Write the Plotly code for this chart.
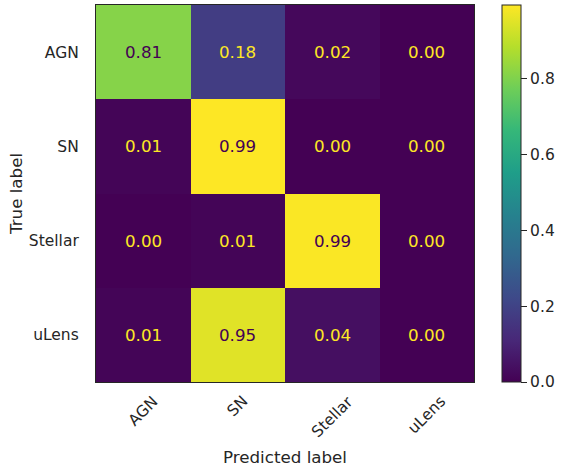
import plotly.graph_objects as go

classes = ["AGN", "SN", "Stellar", "uLens"]
# rows = true label, columns = predicted label
row_agn = [0.81, 0.18, 0.02, 0.00]
row_sn = [0.01, 0.994, 0.00, 0.00]
row_stellar = [0.00, 0.01, 0.99, 0.00]
row_ulens = [0.01, 0.95, 0.04, 0.00]
z = [row_agn, row_sn, row_stellar, row_ulens]

FONT = "DejaVu Sans"
INK = "#262626"
DARK = "#440154"
LIGHT = "#fde725"

zmin = 0.0
zmax = max(max(r) for r in z)

fig = go.Figure()
fig.add_trace(go.Heatmap(
    z=z, x=classes, y=classes,
    colorscale="Viridis", zmin=zmin, zmax=zmax,
    hoverinfo="skip",
    colorbar=dict(
        x=1.074, xanchor="left", xref="paper", xpad=0,
        y=0.5, yanchor="middle", len=1, lenmode="fraction", ypad=0,
        thickness=19, thicknessmode="pixels",
        outlinewidth=1, outlinecolor=INK,
        ticks="outside", ticklen=6, tickwidth=1, tickcolor=INK,
        tick0=0, dtick=0.2, tickformat=".1f",
        tickfont=dict(family=FONT, size=15.5, color=INK),
    ),
))

thresh = (zmin + zmax) / 2
annotations = []
for i, tl in enumerate(classes):
    for j, pl in enumerate(classes):
        v = z[i][j]
        annotations.append(dict(
            x=pl, y=tl, xref="x", yref="y", text=f"{v:.2f}", showarrow=False,
            font=dict(family=FONT, size=16.7, color=DARK if v >= thresh else LIGHT),
        ))
# rotated x tick labels, centred under each column (matplotlib style)
for c in classes:
    annotations.append(dict(
        x=c, xref="x", y=-0.02, yref="paper", yanchor="top", xanchor="center",
        text=c, textangle=-45, showarrow=False,
        font=dict(family=FONT, size=15.5, color=INK),
    ))

fig.update_layout(
    width=562, height=470,
    margin=dict(l=96, r=88, t=5, b=88),
    paper_bgcolor="white", plot_bgcolor="white",
    font=dict(family=FONT, color=INK),
    annotations=annotations,
    xaxis=dict(
        range=[-0.5, 3.5], showticklabels=False, ticks="",
        showline=True, mirror=True, linecolor=INK, linewidth=1.3,
        showgrid=False, zeroline=False,
        title=dict(text="Predicted label", standoff=69,
                   font=dict(family=FONT, size=16.7, color=INK)),
    ),
    yaxis=dict(
        range=[3.5, -0.5], ticks="", ticklabelstandoff=13,
        showline=True, mirror=True, linecolor=INK, linewidth=1.3,
        showgrid=False, zeroline=False,
        tickfont=dict(family=FONT, size=15.5, color=INK),
        title=dict(text="True label", standoff=1,
                   font=dict(family=FONT, size=16.7, color=INK)),
    ),
)

fig.write_html("out.html", config={"displayModeBar": False},
               post_script="document.body.style.margin='0';")
